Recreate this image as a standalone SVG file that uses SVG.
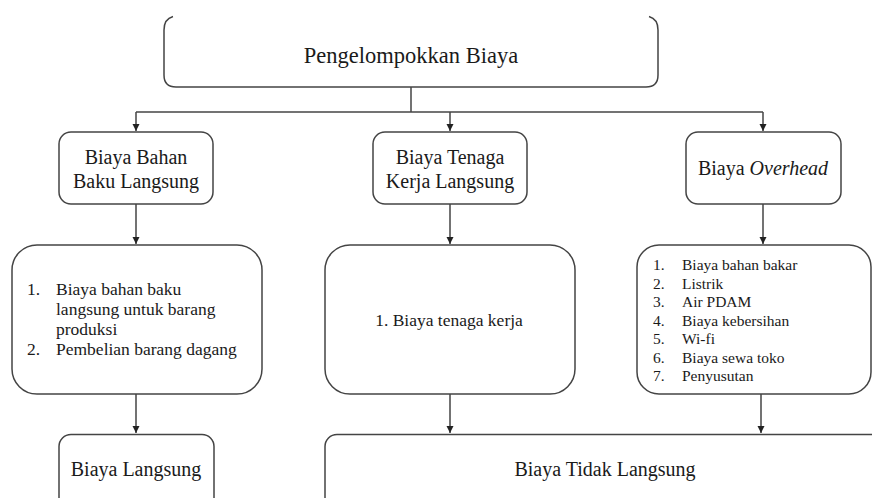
<svg xmlns="http://www.w3.org/2000/svg" width="872" height="498" viewBox="0 0 872 498" font-family="'Liberation Serif', 'Times New Roman', 'DejaVu Serif', serif">
<defs>
<marker id="arr" markerWidth="8" markerHeight="8" refX="7" refY="4" orient="auto" markerUnits="userSpaceOnUse">
<path d="M0,0.5 L7,4 L0,7.5 Z" fill="#222"/>
</marker>
<style>
.box{fill:#fff;stroke:#444;stroke-width:1.5}
.ln{fill:none;stroke:#444;stroke-width:1.5}
.t{font-family:'Liberation Serif', 'Times New Roman', 'DejaVu Serif', serif;fill:#1a1a1a}
.c{text-anchor:middle}
.h{font-size:20px}
.s{font-size:17.5px}
.xs{font-size:15.5px}
</style>
</defs>
<rect width="872" height="498" fill="#fff"/>
<g id="connectors">
<path class="ln" d="M411,87 L411,112"/>
<path class="ln" d="M136,112 L763,112"/>
<path class="ln" d="M136,112 L136,131" marker-end="url(#arr)"/>
<path class="ln" d="M450,112 L450,131" marker-end="url(#arr)"/>
<path class="ln" d="M763,112 L763,131" marker-end="url(#arr)"/>
<path class="ln" d="M136,204 L136,244" marker-end="url(#arr)"/>
<path class="ln" d="M450,204 L450,244" marker-end="url(#arr)"/>
<path class="ln" d="M763,204 L763,244" marker-end="url(#arr)"/>
<path class="ln" d="M136,394 L136,433" marker-end="url(#arr)"/>
<path class="ln" d="M450,394 L450,433" marker-end="url(#arr)"/>
<path class="ln" d="M761,394 L761,433" marker-end="url(#arr)"/>
</g>
<g id="root">
<path class="box" d="M173,16.5 Q164,19 164,30 L164,75 Q164,87 176,87 L646,87 Q658,87 658,75 L658,30 Q658,19 649,16.5"/>
<text class="t c" x="411" y="63" font-size="22.5">Pengelompokkan Biaya</text>
</g>
<g id="bahan-baku">
<rect class="box" x="59" y="132" width="154" height="72" rx="12"/>
<text class="t c h" x="136" y="164">Biaya Bahan</text>
<text class="t c h" x="136" y="188">Baku Langsung</text>
</g>
<g id="tenaga-kerja">
<rect class="box" x="373" y="132" width="154" height="72" rx="12"/>
<text class="t c h" x="450" y="164">Biaya Tenaga</text>
<text class="t c h" x="450" y="188">Kerja Langsung</text>
</g>
<g id="overhead">
<rect class="box" x="686" y="132" width="155" height="72" rx="12"/>
<text class="t c h" x="763" y="175">Biaya <tspan font-style="italic">Overhead</tspan></text>
</g>
<g id="list-bahan">
<rect class="box" x="12" y="245" width="250" height="149" rx="25"/>
<text class="t s" x="27" y="295">1.</text>
<text class="t s" x="56" y="295">Biaya bahan baku</text>
<text class="t s" x="56" y="315">langsung untuk barang</text>
<text class="t s" x="56" y="335">produksi</text>
<text class="t s" x="27" y="355">2.</text>
<text class="t s" x="56" y="355">Pembelian barang dagang</text>
</g>
<g id="list-tenaga">
<rect class="box" x="325" y="245" width="250" height="149" rx="25"/>
<text class="t c s" x="449" y="326">1. Biaya tenaga kerja</text>
</g>
<g id="list-overhead">
<rect class="box" x="637" y="245" width="234" height="149" rx="22"/>
<text class="t xs" x="653" y="270">1.</text><text class="t xs" x="682" y="270">Biaya bahan bakar</text>
<text class="t xs" x="653" y="288.5">2.</text><text class="t xs" x="682" y="288.5">Listrik</text>
<text class="t xs" x="653" y="307">3.</text><text class="t xs" x="682" y="307">Air PDAM</text>
<text class="t xs" x="653" y="325.5">4.</text><text class="t xs" x="682" y="325.5">Biaya kebersihan</text>
<text class="t xs" x="653" y="344">5.</text><text class="t xs" x="682" y="344">Wi-fi</text>
<text class="t xs" x="653" y="362.5">6.</text><text class="t xs" x="682" y="362.5">Biaya sewa toko</text>
<text class="t xs" x="653" y="381">7.</text><text class="t xs" x="682" y="381">Penyusutan</text>
</g>
<g id="biaya-langsung">
<rect class="box" x="59" y="434.5" width="155" height="90" rx="12"/>
<text class="t c h" x="136" y="476">Biaya Langsung</text>
</g>
<g id="biaya-tidak-langsung">
<rect class="box" x="325" y="434.5" width="600" height="90" rx="12"/>
<text class="t c h" x="605" y="476">Biaya Tidak Langsung</text>
</g>
</svg>
